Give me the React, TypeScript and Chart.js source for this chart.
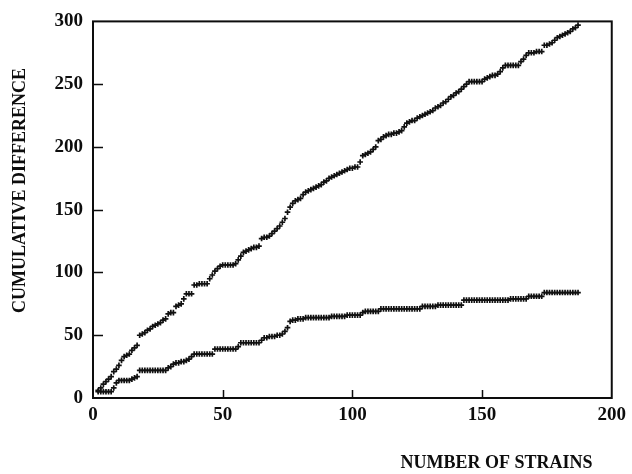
import React, { useEffect, useRef } from "react";
import { Chart, registerables } from "chart.js";

Chart.register(...registerables);

// Strain numbers run consecutively from FIRST_STRAIN
const FIRST_STRAIN = 2;

// Upper series: cumulative difference (strains 2..187)
const UPPER_DIFF = [
  6, 8, 11, 13, 15, 17, 21, 23, 26, 30,
  33, 34, 35, 38, 40, 42, 50, 51, 52, 54,
  55, 57, 58, 59, 60, 62, 63, 67, 68, 68,
  73, 74, 75, 79, 83, 83, 83, 90, 90, 91,
  91, 91, 91, 95, 98, 101, 103, 105, 106, 106,
  106, 106, 106, 107, 110, 113, 116, 117, 118, 119,
  120, 120, 121, 127, 128, 128, 129, 131, 133, 135,
  137, 140, 143, 148, 152, 155, 157, 158, 159, 162,
  164, 165, 166, 167, 168, 169, 170, 172, 173, 175,
  176, 177, 178, 179, 180, 181, 182, 183, 183, 184,
  184, 188, 193, 194, 195, 196, 198, 200, 205, 206,
  208, 209, 210, 210, 211, 211, 212, 213, 216, 219,
  220, 221, 221, 223, 224, 225, 226, 227, 228, 229,
  231, 232, 233, 235, 236, 238, 240, 241, 243, 244,
  246, 248, 250, 252, 252, 252, 252, 252, 252, 254,
  255, 256, 257, 257, 258, 260, 263, 265, 265, 265,
  265, 265, 265, 268, 270, 273, 275, 275, 275, 276,
  276, 276, 281, 281, 282, 283, 285, 287, 288, 289,
  290, 291, 292, 294, 295, 297,
];

// Lower series: cumulative difference (strains 2..187)
const LOWER_DIFF = [
  5, 5, 5, 5, 5, 5, 8, 12, 14, 14,
  14, 14, 14, 15, 16, 17, 22, 22, 22, 22,
  22, 22, 22, 22, 22, 22, 22, 24, 25, 27,
  28, 28, 29, 29, 30, 31, 33, 35, 35, 35,
  35, 35, 35, 35, 35, 39, 39, 39, 39, 39,
  39, 39, 39, 39, 41, 44, 44, 44, 44, 44,
  44, 44, 44, 46, 48, 48, 49, 49, 49, 50,
  50, 51, 53, 56, 61, 62, 62, 63, 63, 63,
  64, 64, 64, 64, 64, 64, 64, 64, 64, 64,
  65, 65, 65, 65, 65, 65, 66, 66, 66, 66,
  66, 66, 68, 69, 69, 69, 69, 69, 69, 71,
  71, 71, 71, 71, 71, 71, 71, 71, 71, 71,
  71, 71, 71, 71, 71, 73, 73, 73, 73, 73,
  73, 74, 74, 74, 74, 74, 74, 74, 74, 74,
  74, 78, 78, 78, 78, 78, 78, 78, 78, 78,
  78, 78, 78, 78, 78, 78, 78, 78, 78, 79,
  79, 79, 79, 79, 79, 79, 81, 81, 81, 81,
  81, 81, 84, 84, 84, 84, 84, 84, 84, 84,
  84, 84, 84, 84, 84, 84,
];

const X_MIN = 0;
const X_MAX = 200;
const X_STEP = 50;
const Y_MIN = 0;
const Y_MAX = 300;
const Y_STEP = 50;

const X_TITLE = "NUMBER OF STRAINS";
const Y_TITLE = "CUMULATIVE DIFFERENCE";

const FONT_FAMILY = "'Liberation Serif', 'Times New Roman', Times, serif";
const INK = "#0d0d0d";

const toPoints = (vals: number[]) =>
  vals.map((v, i) => ({ x: FIRST_STRAIN + i, y: v }));

const framePlugin = {
  id: "framePlugin",
  beforeDatasetsDraw(chart: any) {
    const { ctx, chartArea: a, scales } = chart;
    ctx.save();
    ctx.strokeStyle = INK;
    ctx.lineWidth = 2;
    ctx.strokeRect(a.left, a.top, a.right - a.left, a.bottom - a.top);
    ctx.lineWidth = 1.5;
    ctx.beginPath();
    scales.y.ticks.forEach((t: any) => {
      if (t.value > Y_MIN && t.value < Y_MAX) {
        const y = Math.round(scales.y.getPixelForValue(t.value)) + 0.5;
        ctx.moveTo(a.left, y);
        ctx.lineTo(a.left + 10, y);
      }
    });
    scales.x.ticks.forEach((t: any) => {
      if (t.value > X_MIN && t.value < X_MAX) {
        const x = Math.round(scales.x.getPixelForValue(t.value)) + 0.5;
        ctx.moveTo(x, a.bottom);
        ctx.lineTo(x, a.bottom - 8);
      }
    });
    ctx.stroke();
    ctx.restore();
  },
  afterDraw(chart: any) {
    const { ctx, chartArea: a } = chart;
    ctx.save();
    ctx.fillStyle = INK;
    ctx.font = `bold 18px ${FONT_FAMILY}`;
    ctx.textAlign = "center";
    ctx.textBaseline = "middle";
    // x-axis title
    ctx.fillText(X_TITLE, a.left + (a.right - a.left) * 0.778, a.bottom + 65);
    // y-axis title
    ctx.translate(a.left - 73, a.top + (a.bottom - a.top) * 0.449);
    ctx.rotate(-Math.PI / 2);
    ctx.fillText(Y_TITLE, 0, 0);
    ctx.restore();
  },
};

export default function App() {
  const ref = useRef<HTMLCanvasElement>(null);

  useEffect(() => {
    if (!ref.current) return;
    const markerStyle = {
      showLine: false,
      pointStyle: "cross" as const,
      pointRadius: 2.8,
      pointBorderWidth: 1.7,
      borderColor: "#111111",
      backgroundColor: "#111111",
      pointHoverRadius: 2.8,
    };
    const chart = new Chart(ref.current, {
      type: "scatter",
      data: {
        datasets: [
          { label: "upper", data: toPoints(UPPER_DIFF), ...markerStyle },
          { label: "lower", data: toPoints(LOWER_DIFF), ...markerStyle },
        ],
      },
      options: {
        animation: false,
        responsive: false,
        devicePixelRatio: 1,
        layout: { padding: { left: 0, top: 19, right: 16, bottom: 0 } },
        plugins: {
          legend: { display: false },
          tooltip: { enabled: false },
        },
        scales: {
          x: {
            type: "linear",
            min: X_MIN,
            max: X_MAX,
            grid: { display: false, drawTicks: false },
            border: { display: false },
            ticks: {
              stepSize: X_STEP,
              padding: 6,
              color: INK,
              font: { family: FONT_FAMILY, size: 19, weight: "bold" },
              maxRotation: 0,
            },
            afterFit: (s: any) => {
              s.height = 76;
            },
          },
          y: {
            type: "linear",
            min: Y_MIN,
            max: Y_MAX,
            grid: { display: false, drawTicks: false },
            border: { display: false },
            ticks: {
              stepSize: Y_STEP,
              padding: 10,
              color: INK,
              font: { family: FONT_FAMILY, size: 19, weight: "bold" },
            },
            afterFit: (s: any) => {
              s.width = 93;
            },
          },
        },
      },
      plugins: [framePlugin],
    });
    return () => chart.destroy();
  }, []);

  return (
    <div
      style={{
        position: "absolute",
        left: 0,
        top: 0,
        width: 632,
        height: 474,
        background: "#ffffff",
      }}
    >
      <canvas
        ref={ref}
        width={632}
        height={474}
        style={{ display: "block", width: 632, height: 474 }}
      />
    </div>
  );
}
